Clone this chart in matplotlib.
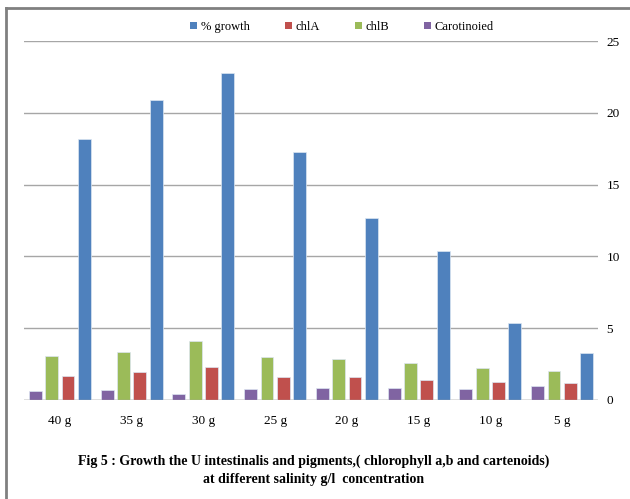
import matplotlib
matplotlib.use("Agg")
import matplotlib.pyplot as plt
from matplotlib.lines import Line2D
from matplotlib.patches import Patch
import numpy as np

categories = ["40 g", "35 g", "30 g", "25 g", "20 g", "15 g", "10 g", "5 g"]
growth = [18.2, 20.9, 22.8, 17.3, 12.7, 10.4, 5.35, 3.26]
chla = [1.70, 1.95, 2.32, 1.63, 1.63, 1.39, 1.23, 1.16]
chlb = [3.09, 3.33, 4.09, 3.00, 2.86, 2.56, 2.23, 2.02]
carot = [0.63, 0.70, 0.44, 0.77, 0.84, 0.84, 0.77, 1.00]
yticks = [0, 5, 10, 15, 20, 25]

series = [
    ("% growth", growth, "#4F81BD"),
    ("chlA", chla, "#C0504D"),
    ("chlB", chlb, "#9BBB59"),
    ("Carotinoied", carot, "#8064A2"),
]

plt.rcParams["font.family"] = ["Liberation Serif", "DejaVu Serif"]

W, H = 630, 499
fig = plt.figure(figsize=(W / 100, H / 100), dpi=100)
ax = fig.add_axes([24 / W, (H - 400) / H, (598 - 24) / W, (400 - 41) / H])

x = np.arange(len(categories))
step = 0.227
width = 0.18
# bars are laid out right-to-left in legend order (reversed category axis)
draw_order = [3, 2, 1, 0]
for slot, si in enumerate(draw_order):
    name, vals, col = series[si]
    offs = (slot - 1.5) * step
    ax.bar(x + offs, vals, width, color=col, edgecolor="#DCE6F2", linewidth=0.5,
           zorder=3, label=name)

ax.set_xlim(-0.5, len(categories) - 0.5)
ax.set_ylim(0, 25)
ax.set_yticks(yticks)
ax.yaxis.tick_right()
ax.tick_params(axis="y", length=0, pad=6, labelsize=9.5)
ax.tick_params(axis="x", length=0, pad=11, labelsize=9.5)
ax.set_xticks(x)
ax.set_xticklabels(categories)
ax.grid(axis="y", color="#A6A6A6", linewidth=1.0, zorder=0)
for s in ax.spines.values():
    s.set_visible(False)
ax.axhline(0, color="#A6A6A6", linewidth=1.0, zorder=4)

handles = [Patch(facecolor=c, edgecolor="none", label=n) for n, _, c in series]
fig.legend(handles=handles, loc="center", bbox_to_anchor=(342 / W, (H - 27) / H),
           ncol=4, frameon=False, fontsize=9, handlelength=0.55, handleheight=0.55,
           handletextpad=0.3, columnspacing=2.8)

fig.text(314 / W, (H - 461) / H,
         "Fig 5 : Growth the U intestinalis and pigments,( chlorophyll a,b and cartenoids)",
         ha="center", va="center", fontsize=10, fontweight="bold")
fig.text(314 / W, (H - 479) / H, "at different salinity g/l  concentration",
         ha="center", va="center", fontsize=10, fontweight="bold")

# outer frame (top and left edges)
fig.add_artist(Line2D([5.5 / W, 1.0], [(H - 7.5) / H, (H - 7.5) / H],
                      transform=fig.transFigure, color="#808080", linewidth=2))
fig.add_artist(Line2D([5.5 / W, 5.5 / W], [0, (H - 7.5) / H],
                      transform=fig.transFigure, color="#808080", linewidth=2))

fig.savefig("out.png", dpi=100)
